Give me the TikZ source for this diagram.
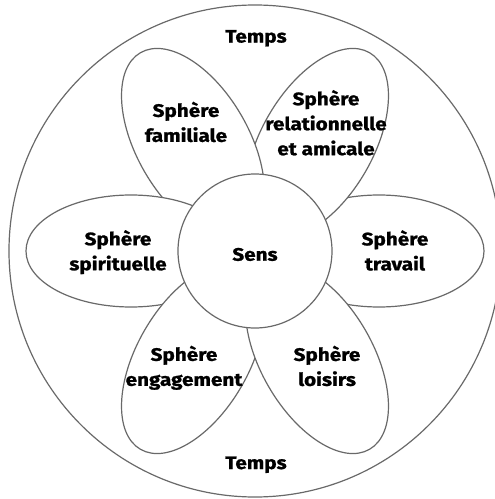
\documentclass[tikz,border=0pt]{standalone}
\usepackage{fontspec}
\setmainfont{Fira Sans}[BoldFeatures={FakeStretch=1.15, FakeBold=1.2}]
\definecolor{linegray}{RGB}{105,105,105}

\begin{document}
\begin{tikzpicture}[x=1pt, y=1pt,
    every node/.style={font=\bfseries\fontsize{18}{25}\selectfont,
                       align=center, inner sep=0pt},
    petal/.style={draw=linegray, line width=1.2pt, fill=white}]
  \clip (-255,-248) rectangle (240,251);

  % Outer ring (time)
  \draw[petal] (0,0) circle (246);
  \node[anchor=base] (temps top) at (1,208.5) {Temps};
  \node[anchor=base] (temps bottom) at (1,-218) {Temps};

  % Petals, each one drawn over the one before
  \foreach \a in {0,60,...,300}
    \draw[petal, rotate=\a] (124,0) ellipse (105 and 56);

  % Heart
  \draw[petal] (0,0) circle (77);
  \node[anchor=base] (sens) at (0,-9.7) {Sens};

  % Labels of the petals
  \node (travail) at (140,0.5) {Sphère\\travail};
  \node (amis) at (71,128.2) {Sphère\\relationnelle\\et amicale};
  \node (famille) at (-69,129) {Sphère\\familiale};
  \node (esprit) at (-137,-1.2) {Sphère\\spirituelle};
  \node (engagement) at (-71,-116.8) {Sphère\\engagement};
  \node (loisirs) at (72,-115) {Sphère\\loisirs};
\end{tikzpicture}
\end{document}
